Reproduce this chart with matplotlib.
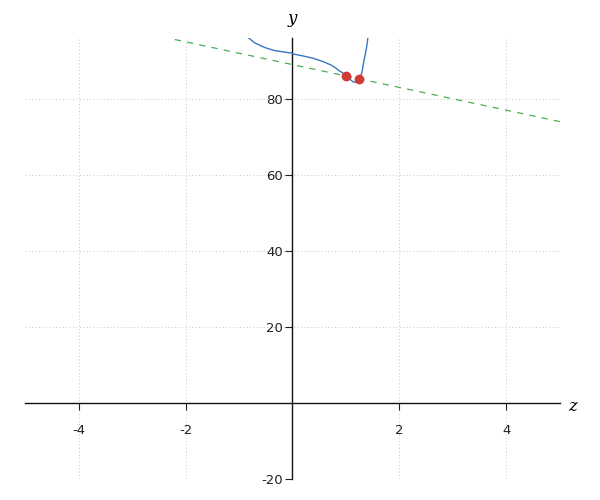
import matplotlib
matplotlib.use("Agg")
import matplotlib.pyplot as plt

plt.rcParams['axes.unicode_minus'] = False

# curve (clipped at the top of the plot)
curve_x = [-0.82, -0.71, -0.52, -0.34, -0.15, -0.02, 0.01, 0.19, 0.38,
           0.57, 0.72, 0.80, 0.87, 0.91, 1.00, 1.07, 1.13, 1.19, 1.25,
           1.30, 1.33, 1.38, 1.41]
curve_y = [96.0, 94.75, 93.5, 92.7, 92.3, 92.05, 91.8, 91.3, 90.7,
           89.8, 88.9, 88.2, 87.4, 87.1, 86.1, 85.2, 84.5, 84.3, 85.2,
           87.0, 89.6, 93.1, 96.1]

# secant line through the two marked points
line_x = [-2.2, 5.0]
line_y = [95.6, 74.0]

pts_x = [1.0, 1.25]
pts_y = [86.0, 85.25]

x_ticks = [-4, -2, 2, 4]
y_ticks = [-20, 20, 40, 60, 80]

fig = plt.figure(figsize=(6, 5), dpi=100)
ax = fig.add_axes([0.0417, 0.042, 0.8916, 0.882])

ax.set_xlim(-5, 5)
ax.set_ylim(-20, 96)

ax.plot(curve_x, curve_y, color='#3a75c4', lw=1.0, zorder=3)
ax.plot(line_x, line_y, color='#4aad55', lw=0.9, ls=(0, (5, 5)), zorder=2)
ax.plot(pts_x, pts_y, 'o', color='#d13a36', ms=6, zorder=4)

ax.spines['left'].set_position(('data', 0))
ax.spines['bottom'].set_position(('data', 0))
ax.spines['top'].set_visible(False)
ax.spines['right'].set_visible(False)
for s in ('left', 'bottom'):
    ax.spines[s].set_color('#111111')
    ax.spines[s].set_linewidth(1.0)

ax.set_xticks(x_ticks)
ax.set_yticks(y_ticks)
ax.tick_params(axis='x', direction='out', length=5, pad=10,
               labelsize=9.5, colors='#222222')
ax.tick_params(axis='y', direction='out', length=5, pad=2,
               labelsize=9.5, colors='#222222')

ax.grid(True, ls=(0, (1, 2.5)), color='#c4c4c4', lw=0.7)
ax.set_axisbelow(True)

ax.text(0, 1.025, 'y', transform=ax.get_xaxis_transform(), ha='center',
        va='bottom', fontsize=12, family='serif', style='italic')
ax.text(1.015, -1, 'z', transform=ax.get_yaxis_transform(), ha='left',
        va='center', fontsize=12, family='serif', style='italic')

fig.savefig('out.png', dpi=100)
